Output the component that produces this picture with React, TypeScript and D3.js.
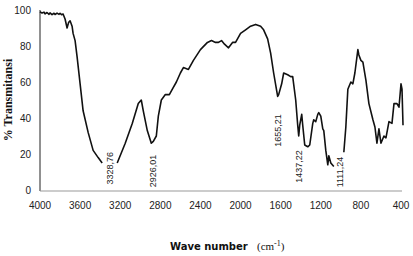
import React from "react";
import * as d3 from "d3";

const wavenumbers: number[] = [
  4000, 3980, 3960, 3950, 3930, 3910, 3900, 3880, 3860, 3850, 3830, 3810, 3800, 3785, 3770, 3750, 3730, 3715, 3700,
  3680, 3670, 3650, 3630, 3600, 3570, 3520, 3470, 3420, 3380,
  3300,
  3230, 3150, 3080, 3020, 2990, 2970, 2930, 2890, 2870, 2840, 2820, 2790, 2750, 2710, 2680, 2640, 2600, 2570, 2520,
  2470, 2400, 2330, 2290, 2250, 2220, 2190, 2160, 2120, 2080, 2050, 2000, 1950, 1900, 1850, 1800, 1770, 1730, 1700,
  1670, 1630, 1620, 1590, 1570, 1530, 1500, 1480, 1450, 1430, 1420, 1410, 1390, 1380, 1360, 1330, 1310, 1280, 1270,
  1250, 1230, 1220, 1200, 1180, 1170, 1150, 1130, 1120, 1100, 1070,
  1010,
  970, 950, 930, 900, 880, 860, 830, 820, 800, 780, 750, 720, 680, 660, 640, 620, 600, 570, 550, 520, 490, 470, 440,
  420, 400, 390, 380,
];

const transmittance: (number | null)[] = [
  99, 98.3, 98.8, 97.8, 98.6, 97.6, 98.4, 97.4, 98.2, 97.5, 98.3, 97.6, 98.2, 97.4, 97.8, 95, 90, 93, 94,
  91, 87, 83, 74, 59, 44, 32, 22, 18, 15,
  null,
  15, 26, 37, 48, 50, 44, 33, 26, 27, 30, 41, 50, 53, 53, 56, 60, 65, 68, 67,
  72, 78, 82, 83, 82, 82, 83, 81, 79, 82, 82, 87, 89, 91, 92, 91, 89, 84, 76,
  65, 52, 53, 59, 65, 64, 63, 63, 50, 36, 30, 36, 42, 36, 25, 24, 25, 37, 39,
  38, 42, 43, 41, 34, 33, 22, 14, 19, 15, 13,
  null,
  21, 35, 56, 60, 59, 65, 78, 75, 72, 71, 61, 48, 39, 35, 26, 34, 26, 30, 29, 38, 37, 48, 48,
  46, 59, 56, 36,
];

const xTicks: number[] = [4000, 3600, 3200, 2800, 2400, 2000, 1600, 1200, 800, 400];
const yTicks: number[] = [0, 20, 40, 60, 80, 100];

const peakLabels: string[] = ["3328,76", "2926,01", "1655,21", "1437,22", "1111,24"];
const peakLabelWavenumbers: number[] = [3300, 2870, 1630, 1420, 1010];
const peakLabelBaseT: number[] = [3, 1.5, 24, 4, 1.5];

const W = 413;
const H = 256;

export default function App() {
  const x = d3.scaleLinear().domain([4000, 400]).range([40, 401]);
  const y = d3.scaleLinear().domain([0, 100]).range([190, 10]);

  const pts = wavenumbers.map((w, i) => ({ w, t: transmittance[i] }));
  const line = d3
    .line<{ w: number; t: number | null }>()
    .defined((d) => d.t !== null)
    .x((d) => x(d.w))
    .y((d) => y(d.t as number));

  const tickFont = "'Liberation Sans', Arial, sans-serif";

  return (
    <svg
      width={W}
      height={H}
      style={{ position: "absolute", left: 0, top: 0, background: "#fff" }}
    >
      <line x1={40} x2={40} y1={y(100)} y2={191} stroke="#222" strokeWidth={1} />
      <line x1={40} x2={402} y1={191} y2={191} stroke="#999" strokeWidth={1.2} />

      {yTicks.map((t) => (
        <text
          key={"y" + t}
          x={31}
          y={y(t)}
          dy="0.35em"
          textAnchor="end"
          fontSize={10}
          fontFamily={tickFont}
          fill="#222"
        >
          {t}
        </text>
      ))}
      {xTicks.map((t) => (
        <text
          key={"x" + t}
          x={x(t)}
          y={209}
          textAnchor="middle"
          fontSize={10}
          fontFamily={tickFont}
          fill="#222"
        >
          {t}
        </text>
      ))}

      <path d={line(pts) || ""} fill="none" stroke="#111" strokeWidth={1.6} strokeLinejoin="round" />

      {peakLabels.map((lab, i) => {
        const px = x(peakLabelWavenumbers[i]);
        const py = y(peakLabelBaseT[i]);
        return (
          <text
            key={lab}
            transform={`translate(${px + 3},${py}) rotate(-90)`}
            fontSize={9}
            fontFamily={tickFont}
            fill="#222"
          >
            {lab}
          </text>
        );
      })}

      <text
        transform={`translate(12,100) rotate(-90)`}
        textAnchor="middle"
        fontSize={12}
        fontWeight="bold"
        fontFamily="'Liberation Serif', 'Times New Roman', serif"
        fill="#111"
      >
        % Transmitansi
      </text>

      <text x={170} y={250} fontSize={10} fontWeight="bold" fontFamily="'DejaVu Sans', sans-serif" fill="#111">
        Wave number
      </text>
      <text x={257} y={250} fontSize={11} fontFamily="'Liberation Serif', 'Times New Roman', serif" fill="#111">
        (cm
        <tspan dy={-4} fontSize={8}>-1</tspan>
        <tspan dy={4}>)</tspan>
      </text>
    </svg>
  );
}
